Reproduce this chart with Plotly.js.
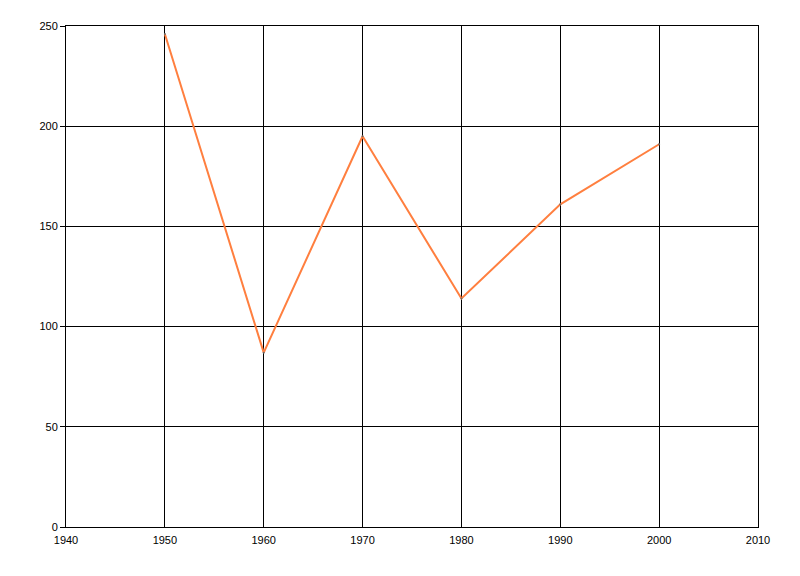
<!DOCTYPE html>
<html>
<head>
<meta charset="utf-8">
<script src="https://cdn.plot.ly/plotly-3.0.1.min.js"></script>
<style>html,body{margin:0;padding:0;background:#fff;}#chart{width:800px;height:576px;}</style>
</head>
<body>
<div id="chart"></div>
<script>
const years = [1950, 1960, 1970, 1980, 1990, 2000];
const values = [246, 87, 195, 114, 161, 191];
const xTicks = [1940, 1950, 1960, 1970, 1980, 1990, 2000, 2010];
const yTicks = [0, 50, 100, 150, 200, 250];

const trace = {
  x: years,
  y: values,
  type: 'scatter',
  mode: 'lines+markers',
  line: {color: '#FF7F3F', width: 2},
  marker: {size: 2, color: '#666666'},
  hoverinfo: 'x+y'
};

const layout = {
  width: 800,
  height: 576,
  margin: {l: 66, r: 42, t: 26, b: 49},
  paper_bgcolor: '#ffffff',
  plot_bgcolor: '#ffffff',
  showlegend: false,
  font: {family: 'Liberation Sans, Arial, sans-serif', size: 11, color: '#000000'},
  xaxis: {
    range: [1940, 2010],
    tickvals: xTicks,
    ticktext: xTicks.map(String),
    showgrid: true,
    gridcolor: '#000000',
    gridwidth: 1,
    showline: true,
    linecolor: '#000000',
    linewidth: 1,
    mirror: true,
    ticks: '',
    ticklabelstandoff: 3,
    zeroline: false
  },
  yaxis: {
    range: [0, 250],
    tickvals: yTicks,
    ticktext: yTicks.map(String),
    showgrid: true,
    gridcolor: '#000000',
    gridwidth: 1,
    showline: true,
    linecolor: '#000000',
    linewidth: 1,
    mirror: true,
    ticks: 'outside',
    ticklen: 5,
    tickcolor: '#000000',
    tickwidth: 1,
    zeroline: false
  }
};

Plotly.newPlot('chart', [trace], layout, {displayModeBar: false, staticPlot: true});
</script>
</body>
</html>
